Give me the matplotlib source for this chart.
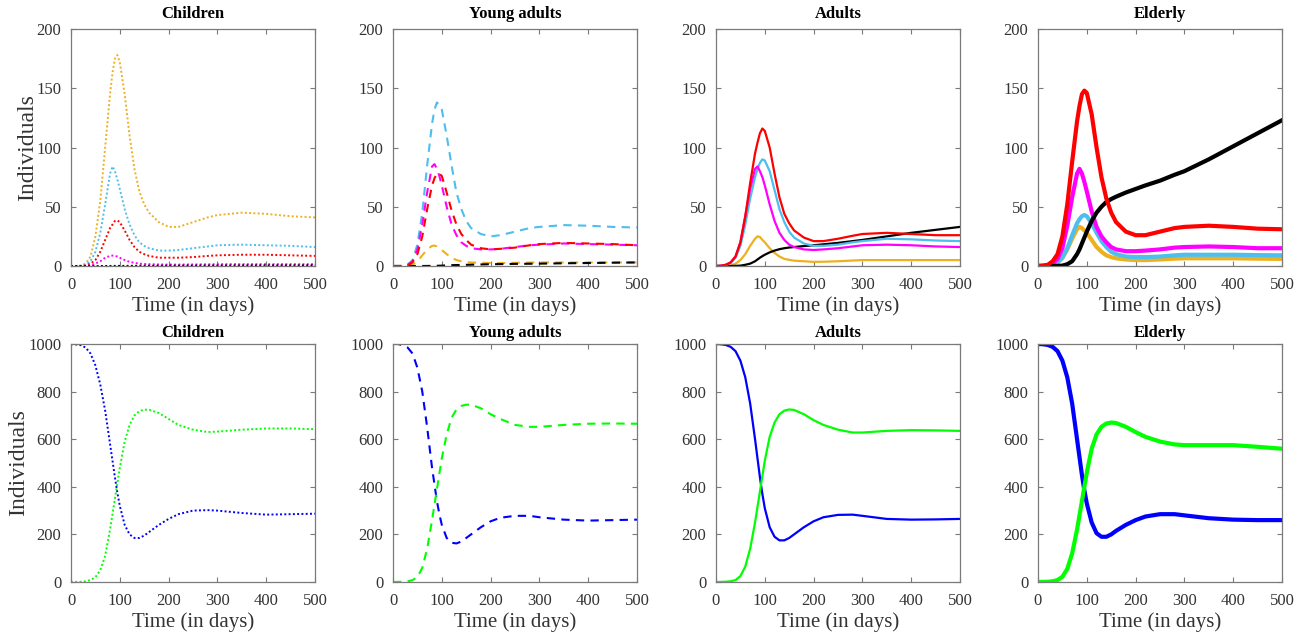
import matplotlib
matplotlib.use('Agg')
import matplotlib.pyplot as plt

plt.rcParams['font.family'] = ['Liberation Serif', 'DejaVu Serif']

# common time grid (days)
t = [0, 10, 20, 30, 40, 50, 60, 70, 80, 85, 90, 95, 100, 110, 120, 130, 140, 150,
     160, 180, 200, 220, 250, 280, 300, 350, 400, 450, 500]

groups = ['Children', 'Young adults', 'Adults', 'Elderly']

# ---- top row: infected compartments ----
child_orange = [0, 0, 0.3, 2, 8, 25, 55, 100, 145, 163, 175, 178, 172, 145, 110, 82, 63, 52,
                45, 37, 33, 33, 37, 41, 43, 45, 44, 42, 41]
child_cyan = [0, 0, 0.2, 1, 4, 12, 28, 52, 78, 84, 80, 73, 65, 48, 35, 26, 20, 17,
              15, 13, 13, 13.5, 15, 16.5, 17.5, 18, 17.5, 17, 16]
child_red = [0, 0, 0, 0.5, 2, 5, 12, 22, 32, 35, 38, 38.5, 37, 30, 22, 16, 12, 10,
             8.5, 7, 7, 7, 7.5, 8.5, 9, 9.5, 9.5, 9, 8.5]
child_magenta = [0, 0, 0, 0.2, 0.5, 2, 4, 7, 8.5, 8.8, 8.5, 8, 7, 5, 3.5, 2.7, 2, 1.7,
                 1.5, 1.3, 1.2, 1.2, 1.3, 1.4, 1.5, 1.5, 1.5, 1.5, 1.5]
child_black = [0, 0, 0, 0, 0, 0, 0, 0, 0.05, 0.05, 0.1, 0.1, 0.1, 0.1, 0.15, 0.15, 0.2, 0.2,
               0.2, 0.25, 0.3, 0.3, 0.35, 0.4, 0.4, 0.45, 0.5, 0.5, 0.55]

young_cyan = [0, 0, 0.2, 1, 5, 18, 45, 85, 120, 132, 138, 136, 132, 110, 85, 62, 48, 38,
              32, 27, 25, 26, 29, 32, 33, 34.5, 34, 33, 32.5]
young_magenta = [0, 0, 0, 1, 4, 14, 35, 62, 84, 86, 82, 76, 68, 50, 35, 26, 20, 17,
                 15, 14, 14, 14.5, 16, 17.5, 18, 19, 18.5, 18, 17.5]
young_red = [0, 0, 0, 0.5, 3, 10, 25, 48, 68, 74, 78, 78, 76, 62, 47, 35, 27, 22,
             18, 15, 14, 14.5, 15.5, 17.5, 18.5, 19.5, 19, 18.5, 17.5]
young_orange = [0, 0, 0, 0.3, 1, 4, 9, 14, 17, 17.2, 16.5, 15, 13.5, 10, 7, 5, 4, 3.4,
                3, 2.7, 2.5, 2.5, 2.7, 2.9, 3, 3, 3, 3, 3]
young_black = [0, 0, 0, 0, 0, 0, 0, 0.05, 0.1, 0.15, 0.2, 0.25, 0.3, 0.5, 0.7, 0.8, 0.9, 1.0,
               1.1, 1.3, 1.5, 1.6, 1.8, 1.9, 2.0, 2.3, 2.5, 2.8, 3.0]

adult_red = [0, 0.2, 1, 3, 8, 20, 42, 70, 95, 104, 112, 116, 114, 100, 78, 58, 44, 36,
             30, 24, 21, 21, 23, 25.5, 27, 28, 27, 26, 26]
adult_cyan = [0, 0.1, 0.8, 2.5, 7, 17, 35, 57, 75, 82, 87, 90, 89, 80, 64, 48, 37, 29,
              24, 19, 17, 17, 18, 20, 21, 23, 22.5, 21.5, 21]
adult_magenta = [0, 0.2, 1, 3, 8, 20, 42, 65, 82, 84, 80, 75, 68, 52, 38, 28, 22, 18,
                 16, 14, 13.5, 14, 15, 16.5, 17.5, 18, 17.5, 16.5, 16]
adult_orange = [0, 0, 0.2, 0.5, 2, 5, 10, 17, 23, 25, 24.5, 22, 20, 15, 11, 8, 6, 5.2,
                4.5, 4, 3.5, 3.6, 4, 4.6, 5, 5, 5, 5, 5]
adult_black = [0, 0, 0, 0, 0.1, 0.3, 1, 2, 4, 5.5, 7, 8.3, 9.5, 11.5, 13, 14.2, 15, 15.6,
               16, 16.8, 17.5, 18.3, 19.5, 21, 22, 25, 28, 30.5, 33]

elder_red = [0, 0.3, 1, 4, 10, 25, 52, 88, 122, 135, 145, 148, 146, 128, 100, 75, 57, 45,
             37, 29, 26, 26, 29, 32, 33, 34, 33, 31.5, 31]
elder_magenta = [0, 0.1, 0.5, 2, 6, 15, 34, 58, 78, 82, 78, 71, 63, 46, 33, 25, 20, 16,
                 14, 12.5, 12.5, 13, 14, 15.5, 16, 16.5, 16, 15, 15]
elder_cyan = [0, 0, 0.3, 1, 3, 7, 15, 26, 36, 39.5, 42, 43, 42, 36, 28, 21, 16, 12,
              10, 8, 7.5, 7.5, 8, 9, 9.5, 9.5, 9.5, 9.2, 9]
elder_orange = [0, 0, 0.3, 1, 3, 7, 14, 23, 31, 33, 32, 30, 28, 22, 16, 12, 9, 7.5,
                6.5, 5.5, 5, 5, 5.5, 6.2, 6.5, 6.5, 6.5, 6.2, 6]
elder_black = [0, 0, 0, 0, 0.1, 0.3, 1.5, 4, 10, 14, 19, 24, 29, 38, 45, 50, 54, 56.5,
               58.5, 62, 65, 68, 72, 77, 80, 90, 101, 112, 123]

# ---- bottom row: susceptible (blue) and recovered (green) ----
child_S = [1000, 998, 995, 985, 960, 910, 830, 720, 580, 510, 440, 375, 320, 240, 200, 185,
           185, 195, 210, 240, 265, 285, 300, 302, 300, 290, 283, 285, 287]
child_R = [0, 0.5, 1, 3, 8, 20, 50, 110, 220, 285, 350, 415, 480, 590, 660, 700,
           718, 724, 724, 710, 685, 660, 640, 630, 632, 640, 645, 645, 642]
young_S = [1000, 1000, 995, 985, 960, 900, 800, 650, 480, 410, 340, 285, 240, 185, 165, 162,
           170, 185, 200, 230, 255, 270, 278, 278, 272, 262, 258, 260, 262]
young_R = [0, 0.5, 1, 3, 8, 20, 60, 140, 260, 325, 390, 455, 520, 620, 690, 725,
           740, 745, 745, 730, 705, 685, 660, 652, 652, 660, 665, 666, 665]
adult_S = [1000, 999, 996, 988, 970, 930, 860, 750, 600, 520, 440, 370, 310, 230, 190, 175,
           175, 185, 200, 230, 255, 272, 282, 283, 278, 265, 262, 263, 265]
adult_R = [0, 0.5, 1, 3, 8, 25, 65, 140, 250, 315, 380, 445, 510, 610, 670, 705,
           720, 725, 723, 705, 680, 660, 640, 628, 628, 635, 638, 637, 635]
elder_S = [1000, 999, 996, 988, 970, 930, 860, 750, 600, 525, 450, 385, 330, 250, 205, 190,
           190, 200, 215, 240, 260, 275, 285, 285, 280, 268, 262, 260, 260]
elder_R = [0, 0.5, 1, 3, 8, 22, 55, 120, 220, 280, 340, 400, 460, 560, 620, 652,
           666, 670, 668, 652, 630, 610, 590, 578, 575, 575, 575, 568, 560]

c_orange = '#EDB120'
c_cyan = '#4DBEEE'
c_red = '#FF0000'
c_mag = '#FF00FF'
c_black = '#000000'
c_blue = '#0000FF'
c_green = '#00FF00'

top_series = [
    [(child_orange, c_orange), (child_cyan, c_cyan), (child_red, c_red), (child_magenta, c_mag), (child_black, c_black)],
    [(young_orange, c_orange), (young_black, c_black), (young_cyan, c_cyan), (young_magenta, c_mag), (young_red, c_red)],
    [(adult_orange, c_orange), (adult_black, c_black), (adult_cyan, c_cyan), (adult_magenta, c_mag), (adult_red, c_red)],
    [(elder_orange, c_orange), (elder_cyan, c_cyan), (elder_magenta, c_mag), (elder_black, c_black), (elder_red, c_red)],
]
bottom_series = [
    [(child_S, c_blue), (child_R, c_green)],
    [(young_S, c_blue), (young_R, c_green)],
    [(adult_S, c_blue), (adult_R, c_green)],
    [(elder_S, c_blue), (elder_R, c_green)],
]
styles = [(0, (1, 1.2)), (0, (4, 3)), '-', '-']
widths = [1.4, 1.5, 1.6, 3.0]

W, H = 1314, 635
fig = plt.figure(figsize=(W / 100, H / 100), dpi=100)
lefts = [71, 393, 716, 1038]
aw = 244

def style_ax(ax, ymax, yt):
    ax.set_xlim(0, 500)
    ax.set_ylim(0, ymax)
    ax.set_xticks([0, 100, 200, 300, 400, 500])
    ax.set_yticks(yt)
    for s in ax.spines.values():
        s.set_color('#7a7a7a')
        s.set_linewidth(0.9)
    ax.tick_params(direction='in', top=True, right=True, length=3.5, width=0.8,
                   colors='#7a7a7a', labelcolor='#333333', labelsize=12)
    ax.tick_params(axis='x', pad=8)
    ax.tick_params(axis='y', pad=7)
    ax.set_xlabel('Time (in days)', fontsize=15, color='#333333', labelpad=2)

for i in range(4):
    ax = fig.add_axes([lefts[i] / W, 1 - 266 / H, aw / W, 237 / H])
    for y, c in top_series[i]:
        ax.plot(t, y, color=c, linestyle=styles[i], linewidth=widths[i])
    style_ax(ax, 200, [0, 50, 100, 150, 200])
    ax.set_title(groups[i], fontsize=12, fontweight='bold', pad=8)
    if i == 0:
        ax.set_ylabel('Individuals', fontsize=17, color='#333333', labelpad=-1)

    ax = fig.add_axes([lefts[i] / W, 1 - 582 / H, aw / W, 238 / H])
    for y, c in bottom_series[i]:
        ax.plot(t, y, color=c, linestyle=styles[i], linewidth=widths[i])
    style_ax(ax, 1000, [0, 200, 400, 600, 800, 1000])
    ax.set_title(groups[i], fontsize=12, fontweight='bold', pad=5)
    if i == 0:
        ax.set_ylabel('Individuals', fontsize=17, color='#333333', labelpad=-1)

fig.savefig('out.png', dpi=100)
